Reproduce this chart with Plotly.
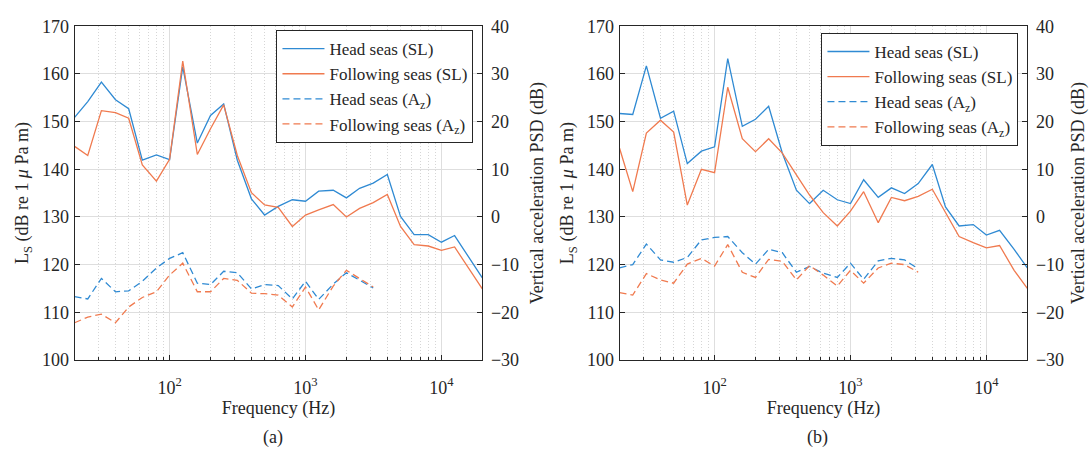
import math
import plotly.graph_objects as go

# Third-octave band centre frequencies (Hz)
freq = [20, 25, 31.5, 40, 50, 63, 80, 100, 125, 160, 200, 250, 315, 400, 500, 630, 800,
        1000, 1250, 1600, 2000, 2500, 3150, 4000, 5000, 6300, 8000, 10000, 12500, 16000, 20000]
freq_az = freq[:23]  # accelerometer bands stop at 3150 Hz

# Panel (a): source level, dB re 1 uPa m
a_head_sl = [150.9, 154.2, 158.3, 154.6, 152.7, 141.9, 143.0, 142.0, 161.5, 145.5, 151.3, 153.7,
             141.9, 133.8, 130.4, 132.2, 133.6, 133.3, 135.4, 135.6, 134.0, 136.0, 137.1, 138.9,
             130.1, 126.3, 126.3, 124.7, 126.1, 121.5, 117.2]
a_follow_sl = [144.8, 142.9, 152.3, 151.9, 150.7, 140.9, 137.5, 142.1, 162.7, 143.1, 148.5, 153.5,
               142.9, 135.1, 132.5, 132.0, 128.0, 130.4, 131.5, 132.6, 130.0, 131.8, 133.0, 134.7,
               128.0, 124.2, 123.9, 123.0, 123.7, 119.0, 114.9]
# Panel (a): vertical acceleration PSD (dB, right axis)
a_head_az = [-16.7, -17.2, -12.9, -15.7, -15.5, -13.5, -10.7, -8.7, -7.5, -13.9, -14.2, -11.4,
             -11.7, -15.1, -14.2, -14.4, -17.2, -13.5, -17.3, -14.1, -11.7, -13.2, -14.9]
a_follow_az = [-22.2, -21.0, -20.4, -22.2, -18.9, -16.9, -15.7, -12.2, -9.7, -15.7, -15.7, -12.9,
               -13.3, -16.0, -16.1, -16.4, -18.9, -14.7, -19.5, -14.5, -11.2, -12.9, -14.7]

# Panel (b)
b_head_sl = [151.7, 151.5, 161.7, 150.7, 152.2, 141.2, 143.8, 144.7, 163.2, 149.0, 150.5, 153.2,
             143.4, 135.6, 132.8, 135.6, 133.6, 132.8, 137.8, 134.1, 136.1, 134.9, 137.0, 141.0,
             132.1, 128.1, 128.4, 126.2, 127.2, 123.2, 119.3]
b_follow_sl = [144.4, 135.3, 147.6, 150.3, 147.8, 132.5, 140.0, 139.3, 157.2, 146.4, 143.7, 146.4,
               143.4, 138.7, 134.6, 130.9, 128.1, 131.2, 135.3, 128.8, 134.1, 133.4, 134.3, 135.8,
               130.9, 125.9, 124.6, 123.5, 124.0, 118.8, 115.0]
b_head_az = [-10.7, -10.0, -5.7, -9.0, -9.5, -8.5, -4.8, -4.3, -4.1, -7.5, -9.9, -6.8,
             -7.5, -11.6, -10.4, -11.8, -12.7, -9.7, -13.1, -9.2, -8.7, -9.0, -10.9]
b_follow_az = [-15.9, -16.4, -11.9, -13.2, -13.9, -9.9, -8.7, -10.3, -5.8, -11.6, -12.7, -8.9,
               -9.3, -13.2, -10.2, -12.2, -14.5, -11.2, -13.9, -10.7, -9.7, -10.0, -11.6]

left_ticks = [100, 110, 120, 130, 140, 150, 160, 170]
right_ticks = [-30, -20, -10, 0, 10, 20, 30, 40]
x_ticks = [100, 1000, 10000]
x_ticktext = ["10<sup>2</sup>", "10<sup>3</sup>", "10<sup>4</sup>"]

names = ["Head seas (SL)", "Following seas (SL)",
         "Head seas (A<sub>z</sub>)", "Following seas (A<sub>z</sub>)"]

BLUE = "#2f8ad3"
ORANGE = "#f07a4f"
FONT = "Times New Roman, Liberation Serif, Tinos, serif"
INK = "#262626"
W, H = 1089, 456
FS = 18

fig = go.Figure()

panels = [
    (a_head_sl, a_follow_sl, a_head_az, a_follow_az, "x", "y", "y2", "legend"),
    (b_head_sl, b_follow_sl, b_head_az, b_follow_az, "x2", "y3", "y4", "legend2"),
]
for hs, fs, ha, fa, xa, yl, yr, lg in panels:
    fig.add_trace(go.Scatter(x=freq, y=hs, mode="lines", name=names[0], xaxis=xa, yaxis=yl,
                             line=dict(color=BLUE, width=1.3), legend=lg))
    fig.add_trace(go.Scatter(x=freq, y=fs, mode="lines", name=names[1], xaxis=xa, yaxis=yl,
                             line=dict(color=ORANGE, width=1.3), legend=lg))
    fig.add_trace(go.Scatter(x=freq_az, y=ha, mode="lines", name=names[2], xaxis=xa, yaxis=yr,
                             line=dict(color=BLUE, width=1.3, dash="7px,4px"), legend=lg))
    fig.add_trace(go.Scatter(x=freq_az, y=fa, mode="lines", name=names[3], xaxis=xa, yaxis=yr,
                             line=dict(color=ORANGE, width=1.3, dash="7px,4px"), legend=lg))

minor_vals = [m * 10 ** e for e in (1, 2, 3) for m in range(2, 10)] + [20000]

def xaxis(domain, anchor):
    return dict(
        type="log", domain=domain, anchor=anchor,
        range=[math.log10(20), math.log10(20000)],
        tickmode="array", tickvals=x_ticks, ticktext=x_ticktext,
        ticks="inside", ticklen=5, tickcolor=INK, ticklabelstandoff=11,
        showline=True, linecolor=INK, linewidth=1, mirror=True,
        showgrid=True, gridcolor="#dedede", gridwidth=1,
        minor=dict(tickmode="array", tickvals=minor_vals, ticks="inside", ticklen=3,
                   tickcolor=INK, showgrid=True, gridcolor="#d6d6d6", griddash="1px,2px",
                   gridwidth=1),
        tickfont=dict(family=FONT, size=FS, color=INK),
        title=dict(text="Frequency (Hz)", font=dict(family=FONT, size=FS, color=INK), standoff=4),
        zeroline=False,
    )

def yleft(domain, anchor):
    return dict(
        domain=domain, anchor=anchor, range=[100, 170],
        tickmode="array", tickvals=left_ticks,
        ticks="inside", ticklen=5, tickcolor=INK, ticklabelstandoff=1,
        showline=True, linecolor=INK, linewidth=1,
        showgrid=True, gridcolor="#dedede", gridwidth=1, zeroline=False,
        tickfont=dict(family=FONT, size=FS, color=INK),
        title=dict(text="L<sub>S</sub> (dB re 1 <i>μ</i> Pa m)",
                   font=dict(family=FONT, size=FS, color=INK), standoff=8),
    )

def yright(overlay, anchor):
    return dict(
        overlaying=overlay, anchor=anchor, side="right", range=[-30, 40],
        tickmode="array", tickvals=right_ticks,
        ticks="inside", ticklen=5, tickcolor=INK, ticklabelstandoff=4,
        showline=True, linecolor=INK, linewidth=1,
        showgrid=False, zeroline=False,
        tickfont=dict(family=FONT, size=FS, color=INK),
        title=dict(text="Vertical acceleration PSD (dB)",
                   font=dict(family=FONT, size=FS, color=INK), standoff=12),
    )

ydom = [1 - 366 / H, 1 - 17 / H]

def legend(x0, y0):
    return dict(x=x0 / W, y=1 - y0 / H, xanchor="left", yanchor="top",
                bgcolor="white", bordercolor=INK, borderwidth=1,
                font=dict(family=FONT, size=17, color=INK),
                itemwidth=42, tracegroupgap=0)

fig.update_layout(
    width=W, height=H,
    margin=dict(l=0, r=0, t=0, b=0),
    paper_bgcolor="white", plot_bgcolor="white",
    showlegend=True,
    xaxis=xaxis([75 / W, 485 / W], "y"),
    yaxis=yleft(ydom, "x"),
    yaxis2=yright("y", "x"),
    xaxis2=xaxis([623 / W, 1033 / W], "y3"),
    yaxis3=yleft(ydom, "x2"),
    yaxis4=yright("y3", "x2"),
    legend=legend(278, 21),
    legend2=legend(826, 24),
    annotations=[
        dict(text="(a)", x=275 / W, y=1 - 447 / H, xref="paper", yref="paper",
             xanchor="center", yanchor="middle",
             showarrow=False, font=dict(family=FONT, size=FS, color=INK)),
        dict(text="(b)", x=822 / W, y=1 - 447 / H, xref="paper", yref="paper",
             xanchor="center", yanchor="middle",
             showarrow=False, font=dict(family=FONT, size=FS, color=INK)),
    ],
)

fig.write_html("out.html")
